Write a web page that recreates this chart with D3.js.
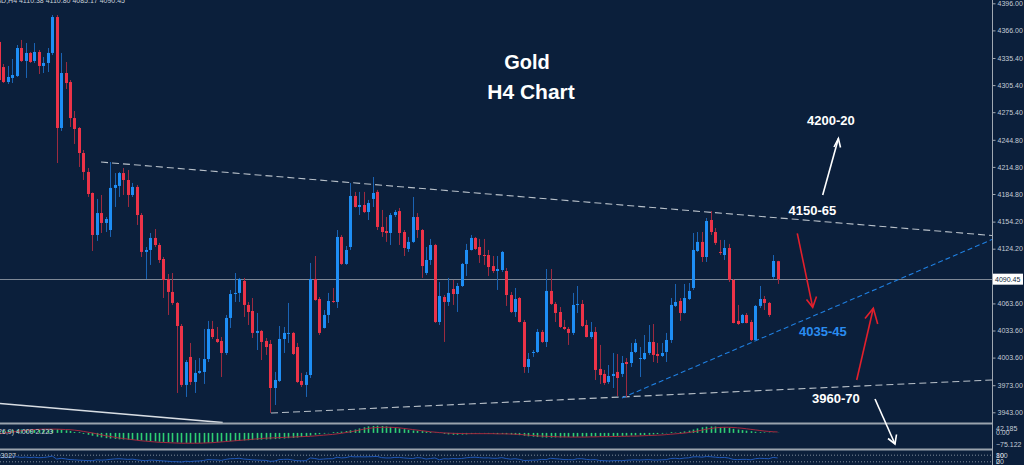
<!DOCTYPE html>
<html><head><meta charset="utf-8">
<script src="https://cdn.jsdelivr.net/npm/d3@7"></script>
<style>html,body{margin:0;padding:0;background:#0b1f3b;overflow:hidden}svg{display:block}</style>
</head><body><svg id="c" width="1024" height="465"></svg>
<script>
// ---------- DATA ----------
const openP = [4353.2,
4325.4,4308.8,4313.3,4315.5,4346.5,4332.1,4341.0,4332.1,4342.1,4326.6,
4329.9,4341.0,4380.8,4257.9,4318.8,4308.8,4268.9,4257.9,4230.2,4209.2,
4185.9,4139.4,4163.7,4152.7,4144.9,4191.5,4193.7,4208.0,4200.3,4183.7,
4192.6,4161.5,4120.6,4122.8,4136.1,4128.3,4112.8,4090.7,4076.3,4064.1,
4038.6,3973.3,4004.3,3976.6,3986.6,3987.7,4002.0,4035.3,4024.2,4022.0,
4008.7,4047.5,4074.0,4075.2,4088.5,4061.9,4055.2,4030.9,4033.1,4022.0,
4018.7,3969.9,3977.7,4024.2,4029.8,4030.9,4015.3,3977.7,3973.3,3984.3,
4090.7,4068.5,4036.4,4050.8,4066.3,4065.2,4137.2,4107.3,4126.1,4182.6,
4170.4,4172.6,4164.8,4179.3,4187.1,4148.3,4143.8,4141.6,4161.5,4165.9,
4142.7,4123.9,4131.7,4159.3,4144.9,4097.3,4111.7,4128.3,4043.0,4070.7,
4065.2,4079.6,4074.0,4082.9,4107.3,4122.8,4136.1,4126.1,4117.2,4117.2,
4105.0,4099.5,4100.6,4099.5,4072.9,4054.1,4069.6,4043.0,3993.2,4008.7,
4009.8,4032.0,4020.9,4077.4,4063.0,4054.1,4037.5,4035.3,4030.9,4061.9,
4063.0,4039.7,4026.4,4032.0,3991.0,3985.5,3976.6,3983.2,3987.7,3985.5,
3998.7,3997.6,4009.8,4002.0,4002.0,4008.7,4020.9,4007.6,4005.4,4009.8,
4023.1,4060.8,4066.3,4053.0,4068.5,4080.7,4121.7,4131.7,4115.0,4156.0,
4142.7,4120.6,4117.2,4125.0,4089.6,4044.2,4041.9,4050.8,4043.0,4023.1,
4060.8,4068.5,4064.1,4092.9,4110.38];
const highP = [4356.5,
4328.8,4326.6,4334.3,4349.8,4355.4,4352.0,4342.1,4352.0,4344.3,4336.5,
4346.5,4383.0,4383.0,4341.0,4331.0,4311.0,4276.7,4259.0,4233.5,4213.6,
4186.5,4179.3,4183.7,4159.3,4220.2,4208.0,4209.2,4213.6,4211.4,4197.0,
4194.8,4163.7,4126.1,4141.6,4146.0,4130.6,4115.0,4096.2,4097.3,4065.2,
4040.8,4000.9,4019.8,4000.9,4003.1,4035.3,4044.2,4044.2,4037.5,4026.4,
4050.8,4078.5,4097.3,4091.8,4091.8,4065.2,4069.6,4053.0,4034.2,4025.3,
4023.1,3987.7,4038.6,4037.5,4064.1,4032.0,4019.8,3986.6,3987.7,4108.4,
4116.1,4070.7,4056.3,4075.2,4080.7,4144.9,4139.4,4127.2,4197.0,4187.1,
4187.1,4187.1,4178.2,4203.6,4189.3,4167.1,4159.3,4163.7,4167.1,4169.3,
4144.9,4137.2,4181.5,4163.7,4146.0,4126.1,4135.0,4129.5,4087.3,4072.9,
4091.8,4089.6,4086.2,4108.4,4129.5,4139.4,4137.2,4135.0,4135.0,4122.8,
4116.1,4116.1,4121.7,4102.8,4076.3,4080.7,4070.7,4045.3,4008.7,4012.0,
4035.3,4034.2,4101.7,4101.7,4065.2,4059.6,4045.3,4037.5,4075.2,4082.9,
4067.4,4045.3,4043.0,4037.5,4017.6,3989.9,3995.4,4008.7,4007.6,4005.4,
4003.1,4019.8,4024.2,4015.3,4028.6,4039.7,4040.8,4019.8,4019.8,4030.9,
4069.6,4085.1,4069.6,4085.1,4086.2,4141.6,4142.7,4142.7,4158.2,4165.9,
4147.1,4133.9,4133.9,4129.5,4090.7,4061.9,4051.9,4053.0,4045.3,4061.9,
4082.9,4071.8,4065.2,4117.2,4110.80];
const lowP = [4308.8,
4307.7,4306.6,4307.7,4314.4,4331.0,4313.3,4329.9,4329.9,4317.7,4318.8,
4319.9,4338.7,4219.1,4254.6,4301.1,4259.0,4240.2,4214.7,4200.3,4181.5,
4121.7,4132.8,4141.6,4142.7,4137.2,4170.4,4181.5,4183.7,4170.4,4181.5,
4150.5,4115.0,4090.7,4106.2,4126.1,4108.4,4069.6,4050.8,4061.9,3964.4,
3971.0,3960.0,3973.3,3964.4,3985.5,3974.4,3998.7,4024.2,4019.8,3982.1,
4006.5,4036.4,4065.2,4065.2,4048.6,4039.7,4025.3,4012.0,4000.9,4006.5,
3942.3,3951.1,3976.6,4008.7,4019.8,4006.5,3975.5,3971.0,3960.0,3981.0,
4066.5,4028.6,4035.8,4041.9,4064.1,4058.5,4106.2,4106.2,4122.8,4169.8,
4161.5,4163.7,4156.0,4170.4,4144.9,4137.2,4131.7,4128.3,4159.3,4128.3,
4116.1,4120.6,4130.6,4136.1,4091.8,4095.1,4106.2,4041.9,4039.7,4020.9,
4060.8,4061.9,4054.1,4081.8,4094.0,4122.2,4122.8,4108.4,4106.2,4094.0,
4097.3,4078.5,4098.4,4060.8,4053.0,4048.6,4042.5,3986.6,3986.6,4004.3,
4008.7,4019.8,4015.3,4061.9,4043.0,4036.4,4034.2,4017.6,4028.6,4053.0,
4037.5,4025.9,4024.2,3978.8,3974.4,3973.3,3974.4,3969.9,3961.1,3982.1,
3960.0,3993.2,4008.7,3982.1,4000.9,4006.5,3998.7,3997.6,4004.3,3998.7,
4019.8,4059.6,4044.2,4052.4,4067.4,4078.5,4120.6,4109.5,4109.5,4139.4,
4128.3,4117.2,4111.7,4087.3,4041.5,4039.7,4041.5,4041.5,4022.0,4022.0,
4058.5,4056.3,4048.6,4090.7,4085.17];
const closeP = [4311.0,
4308.8,4314.4,4316.6,4346.5,4332.1,4341.0,4331.0,4342.1,4326.6,4329.9,
4341.0,4380.8,4257.9,4318.8,4307.7,4268.9,4256.8,4230.2,4209.2,4184.8,
4139.4,4163.7,4152.7,4157.1,4191.5,4194.8,4208.0,4200.3,4183.7,4192.6,
4161.5,4120.6,4122.8,4136.1,4128.3,4111.7,4089.6,4076.3,4064.1,4038.6,
3973.3,3998.7,3976.6,3986.6,3988.8,4002.0,4035.3,4026.4,4020.9,4008.7,
4047.5,4074.0,4075.2,4090.7,4061.9,4054.1,4030.9,4033.1,4020.9,4015.3,
3969.9,3978.8,4024.2,4030.9,4030.9,4007.6,3976.6,3973.3,3984.3,4090.7,
4067.4,4030.9,4050.8,4066.3,4065.2,4137.2,4107.3,4122.8,4182.6,4170.4,
4172.6,4164.8,4174.8,4185.9,4148.3,4142.7,4141.6,4161.5,4164.8,4141.6,
4125.0,4131.7,4159.3,4144.9,4105.0,4111.7,4128.3,4043.0,4071.8,4065.2,
4075.2,4074.0,4082.9,4107.3,4122.8,4136.1,4123.9,4117.2,4116.1,4103.9,
4099.5,4101.7,4120.6,4072.9,4054.1,4068.5,4043.0,3993.2,4002.0,4009.8,
4032.0,4020.9,4077.4,4063.0,4053.0,4037.5,4035.3,4030.9,4061.9,4063.0,
4038.6,4026.4,4032.0,3989.9,3984.3,3975.5,3983.2,3985.5,3981.0,3997.6,
3996.5,4009.8,4019.8,4003.1,4008.7,4020.9,4006.5,4005.4,4008.7,4023.1,
4061.9,4065.2,4053.0,4069.6,4077.4,4122.8,4131.7,4115.0,4154.9,4142.7,
4130.6,4119.5,4125.0,4089.6,4041.9,4040.8,4050.8,4041.9,4023.1,4060.8,
4068.5,4064.1,4050.8,4110.6,4090.45];

const macdHist = [12,14,15,16,17,18,18,18,17,16,15,14,
18,20,18,14,10,
5,0,-5,
-10,-15,-20,-24,-28,-30,-32,-34,-35,-36,-37,
-38,-40,-42,-44,-45,-47,-48,
-49,-50,-51,-52,-53,-54,-54,-53,-53,-52,
-50,-48,-47,-45,-44,-43,
-42,-40,-39,-38,-37,-36,-35,-34,
-33,-31,-30,-28,-27,-25,-22,
-18,-14,-10,-7,-4,-2,0,
4,7,10,14,18,
24,30,35,37,38,37,35,
32,28,24,20,16,13,
11,10,8,5,2,-1,
-5,-8,-10,-10,-9,-8,-6,
-4,-3,-3,-4,-5,-6,-6,-7,-8,-10,-12,
-15,-18,-20,-22,-24,-25,-25,-24,-24,-23,-22,-22,-21,-20,
-20,-19,-19,-18,-18,-17,-17,-16,-16,-15,-14,-13,-12,-11,-10,-8,-6,-4,
-2,0,2,5,8,12,
18,24,30,33,34,34,32,30,27,
22,18,15,12,9,
6,4,3,2,1,1];
const macdSignal = [-5,-2,2,5,8,11,14,
16,18,19,20,20,20,20,19,18,17,
15,12,8,4,0,-5,-10,-15,-19,-23,
-27,-30,-33,-36,-39,-42,-44,-46,-48,-50,
-51,-52,-53,-54,-55,-55,-55,-55,-55,-54,-53,-52,
-50,-48,-46,-44,-42,-40,-38,-36,-34,-32,-30,-28,
-27,-26,-25,-24,-23,-22,-21,-20,-19,-18,-16,-14,-12,-10,-8,
-5,-2,2,6,10,15,20,24,27,29,30,30,
30,29,27,24,21,18,15,12,9,6,4,2,
0,-1,-2,-3,-3,-4,-4,-4,-4,-4,-4,-4,-5,-5,-5,-6,-7,-8,
-10,-12,-14,-16,-17,-18,-19,-20,-21,-21,-22,-22,-22,-22,
-22,-21,-21,-20,-20,-20,-19,-19,-18,-18,-17,-17,-16,-15,-14,-13,-12,-11,
-9,-7,-5,-3,-1,2,
6,10,15,20,24,27,29,30,30,
29,27,25,22,19,16,13,10,8,6,5];
const rsi = [62,58,60,63,66,60,63,58,62,57,59,64,72,
45,52,46,40,38,35,33,31,30,
38,35,37,42,46,48,45,42,44,38,33,30,35,
34,31,28,25,22,21,18,25,22,26,27,32,
40,38,37,33,42,48,49,52,45,42,38,36,34,33,24,
27,40,42,43,36,30,29,30,55,50,
42,45,48,48,62,55,58,68,65,66,
65,66,67,69,58,55,55,60,60,55,52,50,58,55,45,
50,55,38,48,46,50,48,50,56,60,62,58,55,56,52,
52,58,50,44,48,42,32,33,35,36,42,40,52,48,45,
40,40,38,48,48,42,38,40,32,30,28,30,31,30,34,
36,38,36,38,40,36,36,38,40,50,52,48,54,56,65,
66,62,68,66,62,58,60,54,42,40,
42,42,38,48,52,50,48,60,55];

const priceTicks = [4396.00,4366.00,4335.40,4305.40,4275.40,4244.80,4214.80,4184.80,4154.20,4124.20,4094.20,4063.60,4033.60,4003.60,3973.00,3943.00];
const lastPrice = 4090.45;
const headerText = "XAUUSD,H4  4110.38 4110.80 4085.17 4090.45";
const macdLabels = [42.185, 0.00, -75.122];
const rsiLabels = [100, 80, 20, 0];

// trend lines as [candle index, price]
const resistanceLine = [[22.96, 4220.2],[223.18, 4138.8]];
const supportLine = [[61.16, 3942.2],[223.18, 3978.8]];
const channelLine = [[140.03, 3958.9],[223.18, 4134.4]];
const oldLine = [[0.26, 3952.8],[50.3, 3931.7]];

// ---------- DRAW ----------
const svg = d3.select("#c");
const BG = "#0b1f3b";
svg.append("rect").attr("width",1024).attr("height",465).attr("fill",BG);

const x = d3.scaleLinear().domain([0, 223.18]).range([-1.15, 992]);
const y = d3.scaleLinear().domain([3943, 4396]).range([412.3, 3.3]);
const yM = d3.scaleLinear().domain([-75.122, 42.185]).range([447, 425]);
const yR = d3.scaleLinear().domain([0, 100]).range([464, 453]);

const candles = openP.map((o,i)=>({i, o, h:highP[i], l:lowP[i], c:closeP[i]}));

svg.append("defs").append("clipPath").attr("id","mainClip")
  .append("rect").attr("x",0).attr("y",0).attr("width",992).attr("height",423);

const main = svg.append("g").attr("clip-path","url(#mainClip)");

// price line
main.append("line").attr("x1",0).attr("x2",992).attr("y1",Math.round(y(lastPrice))+0.5).attr("y2",Math.round(y(lastPrice))+0.5)
  .attr("stroke","#7e8896").attr("stroke-width",1);

const line = d3.line().x(d=>x(d[0])).y(d=>y(d[1]));
main.append("path").attr("d",line(oldLine)).attr("stroke","#d8dde3").attr("stroke-width",1.6).attr("fill","none");
main.append("path").attr("d",line(resistanceLine)).attr("stroke","#b8c0c9").attr("stroke-width",1.1).attr("stroke-dasharray","7,4").attr("fill","none");
main.append("path").attr("d",line(supportLine)).attr("stroke","#b8c0c9").attr("stroke-width",1.1).attr("stroke-dasharray","7,4").attr("fill","none");
main.append("path").attr("d",line(channelLine)).attr("stroke","#1f7fe0").attr("stroke-width",1.1).attr("stroke-dasharray","5,3").attr("fill","none");

const BULL="#1e8ef5", BEAR="#ec3348", BULLW="#1a63b4", BEARW="#9c2b40";
const cg = main.append("g");
cg.selectAll("line.w").data(candles).enter().append("line")
  .attr("x1",d=>Math.round(x(d.i))+0.5).attr("x2",d=>Math.round(x(d.i))+0.5)
  .attr("y1",d=>y(d.h)).attr("y2",d=>y(d.l))
  .attr("stroke",d=>d.c>=d.o?BULLW:BEARW).attr("stroke-width",1);
cg.selectAll("rect.b").data(candles).enter().append("rect")
  .attr("x",d=>Math.round(x(d.i))-1).attr("width",3)
  .attr("y",d=>y(Math.max(d.o,d.c))).attr("height",d=>Math.max(1,Math.abs(y(d.o)-y(d.c))))
  .attr("fill",d=>d.c>=d.o?BULL:BEAR);

// panels separators
[423.5, 449.5].forEach(v=>{
  svg.append("line").attr("x1",0).attr("x2",993).attr("y1",v).attr("y2",v).attr("stroke","#9aa3ad").attr("stroke-width",2);
});

// MACD
const mg = svg.append("g");
mg.selectAll("line").data(macdHist).enter().append("line")
  .attr("x1",(d,i)=>Math.round(x(i))+0.5).attr("x2",(d,i)=>Math.round(x(i))+0.5)
  .attr("y1",yM(0)).attr("y2",d=>yM(d)+(d===0?-0.8:0))
  .attr("stroke","#2fcf74").attr("stroke-width",1.6);
mg.append("path").attr("d",d3.line().x((d,i)=>x(i)).y(d=>yM(d))(macdSignal))
  .attr("stroke","#a52a3e").attr("stroke-width",1).attr("fill","none");
svg.append("text").attr("x",53).attr("y",434).attr("text-anchor","end")
  .attr("font-family","Liberation Sans, Arial").attr("font-size",7).attr("fill","#c8d0d8")
  .text("MACD(12,26,9) 4.009 2.223");

// RSI
[80,20].forEach(v=>{
  svg.append("line").attr("x1",0).attr("x2",992).attr("y1",yR(v)).attr("y2",yR(v))
    .attr("stroke","#7d8a99").attr("stroke-width",1).attr("stroke-dasharray","1,2");
});
svg.append("path").attr("d",d3.line().x((d,i)=>x(i)).y(d=>yR(d))(rsi))
  .attr("stroke","#2058b8").attr("stroke-width",1).attr("fill","none");
svg.append("text").attr("x",16).attr("y",457.5).attr("text-anchor","end")
  .attr("font-family","Liberation Sans, Arial").attr("font-size",7).attr("fill","#c8d0d8")
  .text("RSI(14) 56.3027");

// right axis
const axG = svg.append("g").attr("transform","translate(992.5,0)")
  .call(d3.axisRight(y).tickValues(priceTicks).tickFormat(d3.format(".2f")).tickSize(3).tickPadding(2));
axG.select(".domain").remove();
axG.selectAll("line").attr("stroke","#a0a8b2");
axG.selectAll("text").attr("fill","#c4ccd6").attr("font-family","Liberation Sans, Arial").attr("font-size",7);
svg.append("line").attr("x1",992.5).attr("x2",992.5).attr("y1",0).attr("y2",465).attr("stroke","#a0a8b2").attr("stroke-width",1);

// last price box
svg.append("rect").attr("x",993).attr("y",y(lastPrice)-5.5).attr("width",30).attr("height",11).attr("fill","#ffffff");
svg.append("text").attr("x",995).attr("y",y(lastPrice)+2.6).attr("font-family","Liberation Sans, Arial").attr("font-size",7).attr("fill","#0b1f3b")
  .text(d3.format(".2f")(lastPrice));

// MACD / RSI axis labels
const macdLabelY = [428.5, 433, 445];
macdLabels.forEach((v,i)=>{
  svg.append("text").attr("x",996).attr("y",macdLabelY[i]+2.4).attr("font-family","Liberation Sans, Arial").attr("font-size",7).attr("fill","#c4ccd6")
    .text(i===1?d3.format(".2f")(v):d3.format(".3f")(v));
});
const rsiLabelY = [455.5, 455.5, 461.5, 461.5];
rsiLabels.forEach((v,i)=>{
  svg.append("text").attr("x",996).attr("y",rsiLabelY[i]+2.4).attr("font-family","Liberation Sans, Arial").attr("font-size",7).attr("fill","#c4ccd6").text(v);
});

// header
svg.append("text").attr("x",125).attr("y",3).attr("text-anchor","end")
  .attr("font-family","Liberation Sans, Arial").attr("font-size",7).attr("fill","#c8d0d8").text(headerText);

// titles
const F = "Liberation Sans, Arial, sans-serif";
svg.append("text").attr("x",527).attr("y",69).attr("text-anchor","middle").attr("font-family",F).attr("font-weight","bold").attr("font-size",20).attr("fill","#ffffff").text("Gold");
svg.append("text").attr("x",531).attr("y",98.5).attr("text-anchor","middle").attr("font-family",F).attr("font-weight","bold").attr("font-size",21).attr("fill","#ffffff").text("H4 Chart");

const labels = [
  {t:"4200-20", x:807, y:124.5, c:"#ffffff"},
  {t:"4150-65", x:788.5, y:214.5, c:"#ffffff"},
  {t:"4035-45", x:799, y:335.5, c:"#2a8cf0"},
  {t:"3960-70", x:812, y:402.5, c:"#ffffff"}
];
labels.forEach(l=>svg.append("text").attr("x",l.x).attr("y",l.y).attr("font-family",F).attr("font-weight","bold").attr("font-size",13).attr("fill",l.c).text(l.t));

const arrows = [
  {from:[822.7,195],to:[838.4,138.5],w1:[834,147],w2:[840.5,147.5],c:"#ffffff"},
  {from:[797.3,233.3],to:[812.7,307.3],w1:[806.5,299.5],w2:[816.5,296.5],c:"#e3202c"},
  {from:[856.7,380],to:[873.3,308.3],w1:[865,318.5],w2:[877.7,324],c:"#e3202c"},
  {from:[875,399],to:[895,444],w1:[888,438.5],w2:[896.5,434.5],c:"#ffffff"}
];
arrows.forEach(a=>{
  svg.append("line").attr("x1",a.from[0]).attr("y1",a.from[1]).attr("x2",a.to[0]).attr("y2",a.to[1]).attr("stroke",a.c).attr("stroke-width",1.6);
  svg.append("path").attr("d",`M${a.w1[0]},${a.w1[1]}L${a.to[0]},${a.to[1]}L${a.w2[0]},${a.w2[1]}`).attr("stroke",a.c).attr("stroke-width",1.6).attr("fill","none");
});
</script></body></html>
